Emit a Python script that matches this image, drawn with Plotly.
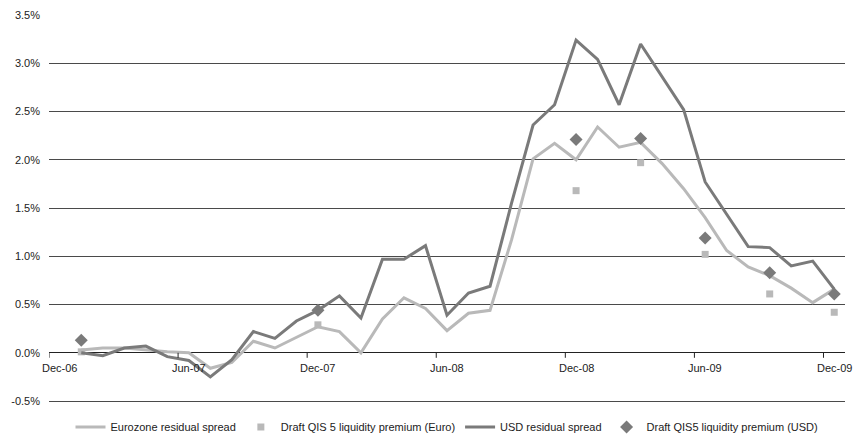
import plotly.graph_objects as go

# Monthly observations, Jan-07 .. Dec-09 (month index 1..36, Dec-06 = 0)
months = [
    "Jan-07", "Feb-07", "Mar-07", "Apr-07", "May-07", "Jun-07",
    "Jul-07", "Aug-07", "Sep-07", "Oct-07", "Nov-07", "Dec-07",
    "Jan-08", "Feb-08", "Mar-08", "Apr-08", "May-08", "Jun-08",
    "Jul-08", "Aug-08", "Sep-08", "Oct-08", "Nov-08", "Dec-08",
    "Jan-09", "Feb-09", "Mar-09", "Apr-09", "May-09", "Jun-09",
    "Jul-09", "Aug-09", "Sep-09", "Oct-09", "Nov-09", "Dec-09",
]

euro_spread = [
    0.03, 0.05, 0.05, 0.03, 0.01, 0.00,
    -0.16, -0.10, 0.12, 0.05, 0.16, 0.27,
    0.22, 0.00, 0.35, 0.57, 0.46, 0.23,
    0.41, 0.44, 1.17, 2.01, 2.17, 2.00,
    2.34, 2.13, 2.18, 1.96, 1.70, 1.40,
    1.06, 0.89, 0.80, 0.67, 0.52, 0.66,
]

usd_spread = [
    0.00, -0.03, 0.05, 0.07, -0.04, -0.08,
    -0.25, -0.07, 0.22, 0.15, 0.33, 0.44,
    0.59, 0.36, 0.97, 0.97, 1.11, 0.39,
    0.62, 0.69, 1.55, 2.36, 2.57, 3.24,
    3.04, 2.57, 3.20, 2.86, 2.52, 1.77,
    1.44, 1.10, 1.09, 0.90, 0.95, 0.66,
]

# Draft QIS5 liquidity premium observations
qis_months = ["Jan-07", "Dec-07", "Dec-08", "Mar-09", "Jun-09", "Sep-09", "Dec-09"]
qis_euro = [0.01, 0.29, 1.68, 1.97, 1.02, 0.61, 0.42]
qis_usd = [0.13, 0.44, 2.21, 2.22, 1.19, 0.83, 0.61]

# Axis labels
x_tick_labels = ["Dec-06", "Jun-07", "Dec-07", "Jun-08", "Dec-08", "Jun-09", "Dec-09"]
y_ticks = [-0.5, 0.0, 0.5, 1.0, 1.5, 2.0, 2.5, 3.0, 3.5]
y_tick_labels = ["-0.5%", "0.0%", "0.5%", "1.0%", "1.5%", "2.0%", "2.5%", "3.0%", "3.5%"]

x_idx = [i + 1 for i in range(len(months))]
qis_idx = [months.index(m) + 1 for m in qis_months]
x_tick_vals = [6 * i for i in range(len(x_tick_labels))]
x_min, x_max = -0.5, 36.5

LIGHT = "#b9b9b9"
DARK = "#7a7a7a"
GRID = "#4a4a4a"
AXIS = "#222222"
FONT = "Liberation Sans, Arial, sans-serif"

fig = go.Figure()
fig.add_trace(go.Scatter(
    x=x_idx, y=euro_spread, mode="lines", name="Eurozone residual spread",
    line=dict(color=LIGHT, width=3),
))
fig.add_trace(go.Scatter(
    x=qis_idx, y=qis_euro, mode="markers", name="Draft QIS 5 liquidity premium (Euro)",
    marker=dict(symbol="square", color=LIGHT, size=7),
))
fig.add_trace(go.Scatter(
    x=x_idx, y=usd_spread, mode="lines", name="USD residual spread",
    line=dict(color=DARK, width=3),
))
fig.add_trace(go.Scatter(
    x=qis_idx, y=qis_usd, mode="markers", name="Draft QIS5 liquidity premium (USD)",
    marker=dict(symbol="diamond", color=DARK, size=10),
))

y_min, y_max = -0.52, 3.5

# Month labels sit just under the zero line, centred on their month
for xv, txt in zip(x_tick_vals, x_tick_labels):
    fig.add_annotation(
        x=xv, y=0, xref="x", yref="y", text=txt, showarrow=False,
        yanchor="top", yshift=-7, font=dict(family=FONT, size=11, color=AXIS),
    )

# Short tick marks hanging from the zero line at the start of each half-year
for k in range(len(x_tick_labels)):
    xt = x_min + 6 * k
    fig.add_shape(
        type="line", xref="x", x0=xt, x1=xt, yref="y",
        ysizemode="pixel", yanchor=0, y0=0, y1=-5,
        line=dict(color=AXIS, width=1), layer="above",
    )

fig.update_layout(
    width=853, height=434,
    margin=dict(l=49, r=8, t=15, b=31, autoexpand=False),
    paper_bgcolor="white", plot_bgcolor="white",
    font=dict(family=FONT, size=11, color=AXIS),
    showlegend=True,
    legend=dict(
        orientation="h", x=0.5, xanchor="center",
        yref="container", y=0.016, yanchor="middle",
        font=dict(size=11, color=AXIS), itemwidth=30,
        tracegroupgap=0, bgcolor="rgba(0,0,0,0)",
    ),
    xaxis=dict(
        range=[x_min, x_max],
        showgrid=False, zeroline=False, showline=False,
        showticklabels=False, ticks="",
        fixedrange=True,
    ),
    yaxis=dict(
        range=[y_min, y_max],
        tickmode="array", tickvals=y_ticks, ticktext=y_tick_labels,
        showgrid=True, gridcolor=GRID, gridwidth=1,
        zeroline=True, zerolinecolor=AXIS, zerolinewidth=1,
        showline=False, ticks="",
        ticklabelstandoff=8,
        tickfont=dict(size=11, color=AXIS),
        fixedrange=True,
    ),
)

fig.write_html("out.html")
